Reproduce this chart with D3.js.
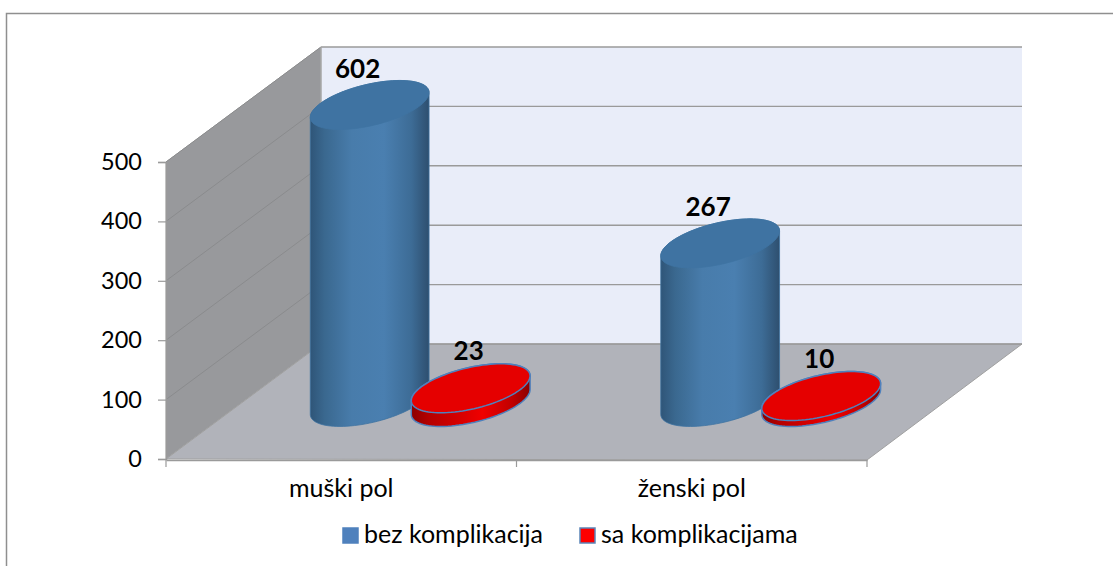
<!DOCTYPE html>
<html><head><meta charset="utf-8">
<script src="https://cdnjs.cloudflare.com/ajax/libs/d3/7.8.5/d3.min.js"></script>
<style>html,body{margin:0;padding:0;background:#fff}svg{display:block}text{font-family:Lato,"Noto Sans",sans-serif;fill:#000}</style>
</head><body><svg id="c" width="1113" height="566"></svg>
<script>
const categories = ["muški pol", "ženski pol"];
const seriesNames = ["bez komplikacija", "sa komplikacijama"];
const bezKomplikacija = [602, 267];
const saKomplikacijama = [23, 10];
const seriesValues = [bezKomplikacija, saKomplikacijama];
const yTicks = [0, 100, 200, 300, 400, 500];

const svg = d3.select("#c");
const front = {x0:166, x1:867, y0:459, y1:162};
const depth = {dx:155, dy:-115};
const y = d3.scaleLinear().domain([0,500]).range([front.y0,front.y1]).clamp(true);
const xCat = d3.scaleBand().domain(categories).range([front.x0,front.x1]);
const xSer = d3.scaleBand().domain(d3.range(seriesNames.length))
  .range([xCat.bandwidth()*0.2205,xCat.bandwidth()*0.7912]).paddingInner(0.02);
const h = v => y(0)-y(v);

const defs = svg.append("defs");
function grad(id,stops){
  const g=defs.append("linearGradient").attr("id",id);
  stops.forEach(s=>g.append("stop").attr("offset",s[0]).attr("stop-color",s[1]));
}
grad("blueSide",[[0,"#2f5578"],[.12,"#3a688f"],[.35,"#487cab"],[.62,"#4a7fb0"],[.85,"#3d6c96"],[1,"#2e4f6f"]]);
grad("redSide",[[0,"#8c0000"],[.15,"#b50000"],[.6,"#f00000"],[.85,"#c00000"],[1,"#8a0000"]]);

// frame: only the top and left edges are visible
svg.append("path").attr("d","M6.5,566V13.5H1113").attr("fill","none").attr("stroke","#8f8f8f").attr("stroke-width",1.5);

// walls
const pts = a => a.map(p=>p.join(",")).join(" ");
const back = (xv,v)=>[xv+depth.dx,y(v)+depth.dy];
svg.append("polygon").attr("points",pts([back(front.x0,0),back(front.x0,500),back(front.x1,500),back(front.x1,0)])).attr("fill","#e9edf9");
svg.append("polygon").attr("points",pts([[front.x0,y(0)],[front.x0,y(500)],back(front.x0,500),back(front.x0,0)])).attr("fill","#98999c").attr("stroke","#a0a0a0");
svg.append("polygon").attr("points",pts([[front.x0,y(0)],[front.x1,y(0)+1],back(front.x1,0),back(front.x0,0)])).attr("fill","#b1b3ba").attr("stroke","#a0a0a0");

// gridlines
svg.append("g").selectAll("line").data(yTicks).join("line")
  .attr("x1",front.x0+depth.dx).attr("x2",front.x1+depth.dx)
  .attr("y1",d=>y(d)+depth.dy).attr("y2",d=>y(d)+depth.dy).attr("stroke","#9a9a9a").attr("stroke-width",1.4);
svg.append("g").selectAll("line").data(yTicks.slice(1)).join("line")
  .attr("x1",front.x0).attr("x2",front.x0+depth.dx)
  .attr("y1",d=>y(d)).attr("y2",d=>y(d)+depth.dy).attr("stroke","#8a8b8d").attr("stroke-width",1);
svg.append("line").attr("x1",front.x0+depth.dx).attr("x2",front.x0+depth.dx).attr("y1",y(500)+depth.dy).attr("y2",y(0)+depth.dy).attr("stroke","#aaa");

// axes
const yAxis = d3.axisLeft(y).tickValues(yTicks).tickSize(8).tickPadding(16);
const gy = svg.append("g").attr("transform",`translate(${front.x0},0)`).call(yAxis);
gy.select(".domain").attr("stroke","#9a9a9a").attr("stroke-width",1.5);
gy.selectAll("line").attr("stroke","#9a9a9a").attr("stroke-width",1.2);
gy.selectAll("text").attr("font-size",23.5).attr("font-family","Lato");
const gx = svg.append("g").attr("transform",`translate(0,${y(0)+1})`).call(d3.axisBottom(xCat).tickSize(0).tickPadding(19));
gx.select(".domain").attr("stroke","#9a9a9a").attr("stroke-width",1.5);
gx.selectAll("text").attr("font-size",25).attr("font-family","Lato");
svg.append("g").selectAll("line").data(d3.range(categories.length+1)).join("line")
  .attr("x1",i=>front.x0+i*xCat.step()).attr("x2",i=>front.x0+i*xCat.step())
  .attr("y1",y(0)+1).attr("y2",y(0)+8).attr("stroke","#9a9a9a").attr("stroke-width",1.2);

// cylinders
const line = d3.line();
const floorFrac = 0.496;
const ry = Math.abs(depth.dy)*0.213;
const vx = depth.dx*0.194, ux = xSer.bandwidth()/2*1.035;
const angles = d3.range(0,2*Math.PI+0.01,Math.PI/48);
const ring = (cx,cy,t)=>[cx+Math.cos(t)*ux+Math.sin(t)*vx, cy-Math.sin(t)*ry];
const tR = Math.atan2(vx,ux);
function sidePath(cx,yt,yb){
  const top = d3.range(0,Math.PI+.001,Math.PI/48).map(a=>ring(cx,yt,tR+a));
  const bot = d3.range(0,Math.PI+.001,Math.PI/48).map(a=>ring(cx,yb,tR+Math.PI+a));
  return line(top.concat(bot))+"Z";
}
const barsData=[];
seriesValues.forEach((vals,s)=>vals.forEach((v,c)=>barsData.push({s,c,v})));
const cols=[{side:"url(#blueSide)",top:"#3f73a2",stroke:"#3f73a2",sw:.8},{side:"url(#redSide)",top:"#e50000",stroke:"#4f81bd",sw:1.5}];
const g = svg.append("g");
const cy = y(0)+depth.dy*floorFrac;
barsData.sort((a,b)=>a.c-b.c||a.s-b.s).forEach(d=>{
  const cx = xCat(categories[d.c])+xSer(d.s)+xSer.bandwidth()/2+depth.dx*floorFrac;
  const yt = cy-h(d.v);
  const st = cols[d.s];
  g.append("path").attr("d",sidePath(cx,yt,cy)).attr("fill",st.side).attr("stroke",st.stroke).attr("stroke-width",st.sw);
  g.append("path").attr("d",line(angles.map(a=>ring(cx,yt,a)))+"Z").attr("fill",st.top).attr("stroke",st.stroke).attr("stroke-width",st.sw);
  g.append("text").attr("x",cx+(d.s===0?-12:-2)).attr("y",yt-(d.s===0?27:28))
    .attr("text-anchor","middle").attr("font-weight",700).attr("font-size",26).text(d.v);
});

// legend
const legX=[337,574], legY=536;
const lg = svg.append("g").selectAll("g").data(seriesNames).join("g").attr("transform",(d,i)=>`translate(${legX[i]},${legY})`);
lg.append("rect").attr("x",6).attr("y",-8).attr("width",15).attr("height",15)
  .attr("fill",(d,i)=>i?"#fe0000":"#4f81bd").attr("stroke",(d,i)=>i?"#5b85b8":"#4f81bd").attr("stroke-width",1.5);
lg.append("text").attr("x",27).attr("y",7).attr("font-size",25).text(d=>d);
</script></body></html>
